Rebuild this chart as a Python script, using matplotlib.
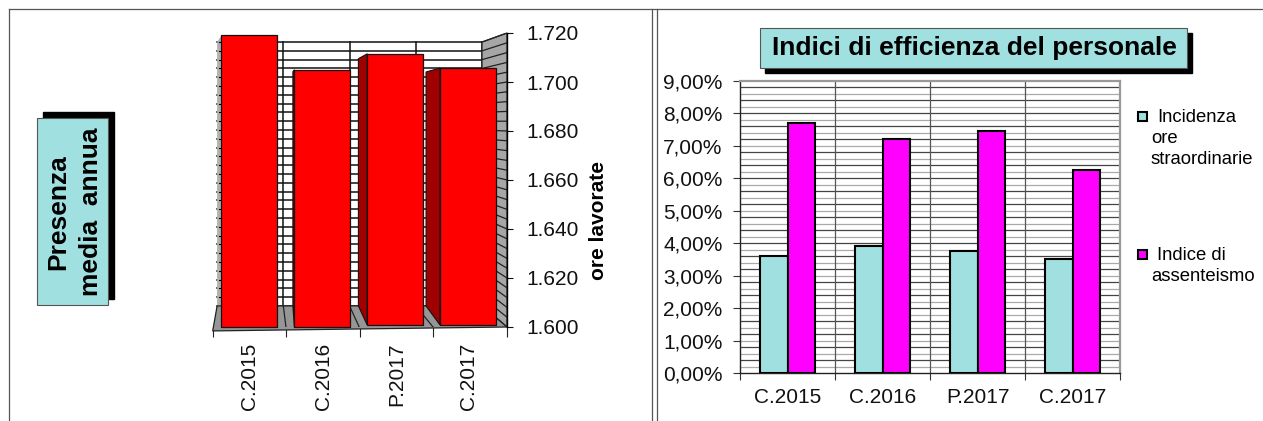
import matplotlib
matplotlib.use("Agg")
import matplotlib.pyplot as plt
from matplotlib.patches import Polygon, Rectangle

plt.rcParams['font.family'] = ['Liberation Sans', 'DejaVu Sans']

# Data
categories = ["C.2015", "C.2016", "P.2017", "C.2017"]
ore_lavorate = [1719, 1705, 1711.5, 1705.7]
ore_ticks = [1600, 1620, 1640, 1660, 1680, 1700, 1720]
ore_tick_labels = ["1.600", "1.620", "1.640", "1.660", "1.680", "1.700", "1.720"]
straordinarie = [3.6, 3.9, 3.75, 3.5]
assenteismo = [7.72, 7.22, 7.47, 6.25]
pct_ticks = [0, 1, 2, 3, 4, 5, 6, 7, 8, 9]
pct_tick_labels = ["0,00%", "1,00%", "2,00%", "3,00%", "4,00%", "5,00%", "6,00%", "7,00%", "8,00%", "9,00%"]
legend_names = ["Incidenza\nore\nstraordinarie", "Indice di\nassenteismo"]

TEAL = "#a0e0e0"
W, H = 1263, 421
fig = plt.figure(figsize=(W / 100, H / 100), dpi=100)


def axes_px(x0, y0, x1, y1):
    # axes from pixel box, y measured from the top
    return fig.add_axes([x0 / W, 1 - y1 / H, (x1 - x0) / W, (y1 - y0) / H])


# Page layer: borders, boxes, legend
bg = fig.add_axes([0, 0, 1, 1])
bg.set_xlim(0, W)
bg.set_ylim(H, 0)
bg.axis("off")
bg.plot([9, W], [9, 9], color="#555555", lw=0.9)
for xv in [9, 652, 657]:
    bg.plot([xv, xv], [9, H], color="#555555", lw=0.9)

bg.add_patch(Rectangle((43, 112), 71, 187, color="black"))
bg.add_patch(Rectangle((37, 118), 71, 187, fc=TEAL, ec="#555555", lw=0.8))
bg.text(58, 212, "Presenza", rotation=90, ha="center", va="center", fontsize=19, fontweight="bold")
bg.text(91, 212, "media  annua", rotation=90, ha="center", va="center", fontsize=19, fontweight="bold")

bg.add_patch(Rectangle((765, 33), 427, 40, color="black"))
bg.add_patch(Rectangle((760, 28), 427, 40, fc=TEAL, ec="#555555", lw=0.8))
bg.text(974, 48, "Indici di efficienza del personale", ha="center", va="center",
        fontsize=19, fontweight="bold")

bg.text(599, 221, "ore lavorate", rotation=90, ha="center", va="center", fontsize=15, fontweight="bold")

for name, col, ym in zip(legend_names, [TEAL, "#ff00ff"], [116, 254]):
    bg.add_patch(Rectangle((1138, ym - 4.5), 9, 9, fc=col, ec="black", lw=1.5))
    lines = name.split("\n")
    bg.text(1157, ym + 1, lines[0], va="center", fontsize=13.3)
    for k, line in enumerate(lines[1:]):
        bg.text(1151, ym + 1 + 21.5 * (k + 1), line, va="center", fontsize=13.3)

# Left chart, pseudo 3D
ax = axes_px(212.7, 33, 507, 327)
ax.set_xlim(0, 4)
ax.set_ylim(1600, 1720)
ax.patch.set_alpha(0)
for sp in ["left", "top", "bottom"]:
    ax.spines[sp].set_visible(False)
ax.spines["right"].set_linewidth(1.0)

bx0, bx1 = 0.06, 3.66
by0, by1 = 1608.6, 1716.3


def back_y(v):
    return by0 + (v - 1600) * (by1 - by0) / 120


# back wall
for v in range(1600, 1721, 4):
    ax.plot([bx0, bx1], [back_y(v)] * 2, color="#111111", lw=1.1, zorder=1, clip_on=False)
for i in range(1, 5):
    xb = bx0 + 0.9 * i
    ax.plot([xb, xb], [by0, by1], color="#111111", lw=1.1, zorder=1)

# left sliver
ax.add_patch(Polygon([(bx0, by0), (bx0 + 0.06, 1600), (bx0 + 0.06, 1719), (bx0, by1)],
                     fc="#b0b0b0", ec="none", zorder=1.5))
for v in range(1600, 1721, 4):
    ax.plot([bx0 + 0.03, bx0 + 0.06], [back_y(v)] * 2, color="black", lw=0.8, zorder=1.6)

# right wall
ax.add_patch(Polygon([(bx1, by0), (4, 1600), (4, 1720), (bx1, by1)], fc="#a6a6a6", ec="#222222",
                     lw=0.9, zorder=2, clip_on=False))
for v in range(1600, 1721, 4):
    ax.plot([bx1, 4], [back_y(v), v], color="#222222", lw=0.9, zorder=2.1)

# floor
ax.add_patch(Polygon([(0, 1598.4), (4, 1600), (bx1, by0), (bx0, by0)], fc="#969696", ec="#222222",
                     lw=0.9, zorder=2.2, clip_on=False))
for i in range(1, 4):
    ax.plot([i, bx0 + 0.9 * i], [1598.6 + 0.4 * i, by0], color="#222222", lw=0.9, zorder=2.3)

# bars with side faces
xpos = [0.495, 1.49, 2.48, 3.47]
bases = [1600, 1600, 1600.8, 1600.8]
side_dx = [0, 0.02, 0.12, 0.19]
side_dy = [0, 0.8, 2.0, 1.6]
bar_w = 0.76
for xc, val, base, dx, dy in zip(xpos, ore_lavorate, bases, side_dx, side_dy):
    xl = xc - bar_w / 2
    if dx > 0:
        ax.add_patch(Polygon([(xl, base), (xl - dx, by0), (xl - dx, val - dy), (xl, val)],
                             fc="#a00000", ec="#111111", lw=0.8, zorder=3, clip_on=False))
ax.bar(xpos, [v - b for v, b in zip(ore_lavorate, bases)], bottom=bases, width=bar_w,
       color="#ff0000", edgecolor="#111111", linewidth=0.9, zorder=4, clip_on=False)

ax.yaxis.tick_right()
ax.set_yticks(ore_ticks)
ax.set_yticklabels(ore_tick_labels, fontsize=15)
ax.tick_params(axis="y", length=4, width=0.8, pad=10.3, colors="#111111")
ax.set_xticks(range(5))
ax.set_xticklabels([])
ax.tick_params(axis="x", which="major", length=7, width=0.8, color="#222222")
ax.set_xticks([0.5, 1.5, 2.5, 3.48], minor=True)
ax.set_xticklabels(categories, minor=True, rotation=90, fontsize=15, color="#111111")
ax.tick_params(axis="x", which="minor", length=0, pad=11.5)

# Right chart
ax2 = axes_px(740, 81, 1120, 373)
ax2.set_xlim(0, 4)
ax2.set_ylim(0, 9)
for k in range(1, 45):
    ax2.axhline(k * 0.2, color="#444444" if k % 2 == 0 else "#aaaaaa", lw=0.9, zorder=1)
for i in range(1, 4):
    ax2.axvline(i, color="#555555", lw=0.9, zorder=1)
bw = 0.29
xc2 = [i + 0.5 for i in range(4)]
ax2.bar([x - bw / 2 for x in xc2], straordinarie, width=bw, color=TEAL, edgecolor="black", linewidth=1.5, zorder=3)
ax2.bar([x + bw / 2 for x in xc2], assenteismo, width=bw, color="#ff00ff", edgecolor="black", linewidth=1.5, zorder=3)
for sp in ["top", "right"]:
    ax2.spines[sp].set_color("#999999")
    ax2.spines[sp].set_linewidth(1.6)
for sp in ["left", "bottom"]:
    ax2.spines[sp].set_color("#222222")
    ax2.spines[sp].set_linewidth(1.0)
ax2.set_yticks(pct_ticks)
ax2.set_yticklabels(pct_tick_labels, fontsize=15, color="#111111")
ax2.tick_params(axis="y", length=5, width=0.8, pad=7.5, color="#333333")
ax2.set_xticks(range(5))
ax2.set_xticklabels([])
ax2.tick_params(axis="x", which="major", length=5, width=0.8, color="#333333")
ax2.set_xticks(xc2, minor=True)
ax2.set_xticklabels(categories, minor=True, fontsize=15, color="#111111")
ax2.tick_params(axis="x", which="minor", length=0, pad=11)

fig.savefig("out.png", dpi=100)
